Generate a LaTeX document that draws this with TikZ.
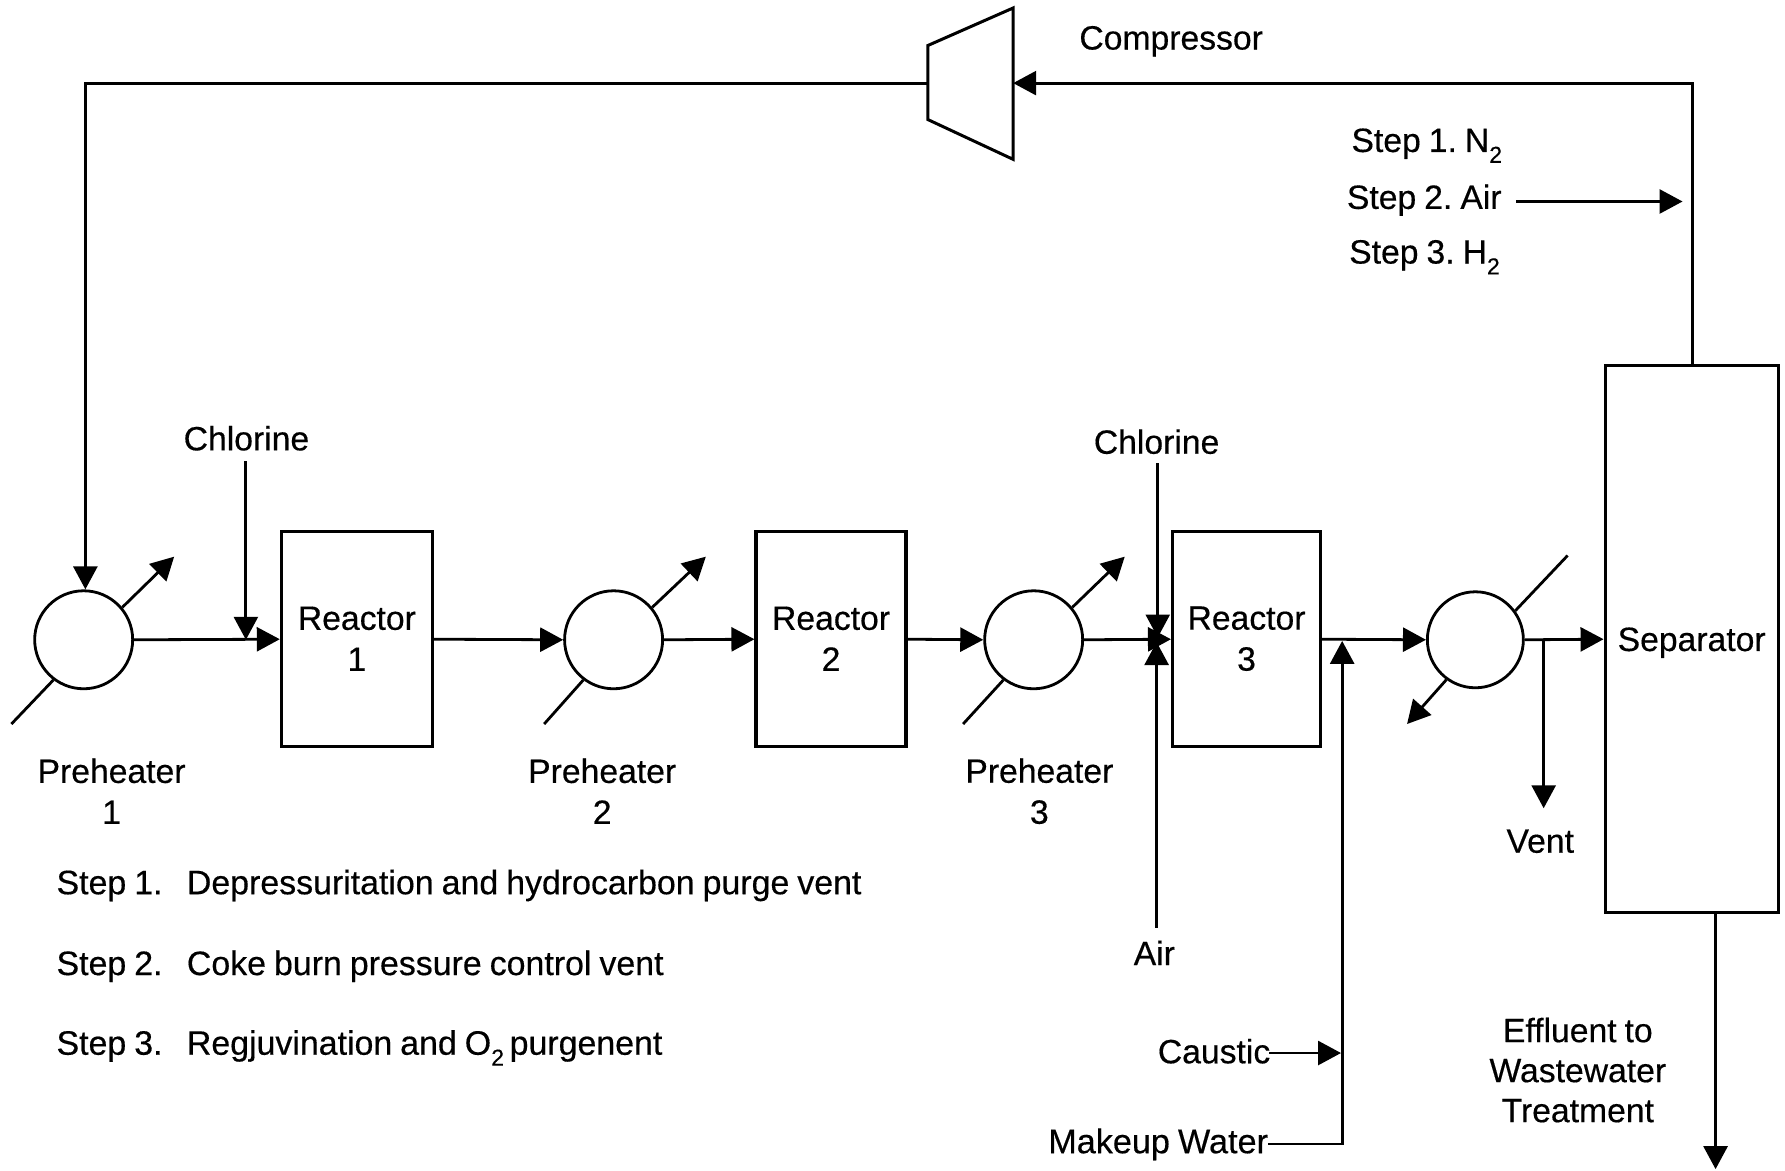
\documentclass[tikz,border=0pt]{standalone}
\usepackage{fontspec}
\setmainfont[WordSpace=0.85,RawFeature={embolden=0.4}]{Liberation Sans}
\usetikzlibrary{arrows.meta}
\newcommand{\subtwo}{\raisebox{-0.32em}{\fontsize{23}{23}\selectfont 2}}
\tikzset{
  lab/.style={font=\fontsize{33.7}{41}\selectfont, inner sep=0pt, align=center, text=black},
  leftlab/.style={lab, anchor=base west, align=left},
  notelab/.style={leftlab, font=\fontsize{33.9}{41}\selectfont},
  box/.style={draw, line width=3.2pt, minimum width=0pt, inner sep=0pt, align=center, font=\fontsize{33.7}{41}\selectfont},
  heater/.style={draw, circle, line width=2.8pt, minimum size=98pt, inner sep=0pt},
  pipe/.style={line width=2.8pt},
  flow/.style={line width=2.8pt, -{Triangle[length=23pt,width=24pt]}},
}
\begin{document}
\begin{tikzpicture}[x=1.1384pt,y=-1.1384pt]
\useasboundingbox (0,0) rectangle (1568,1028);
% equipment
\node[box, minimum width=151pt, minimum height=215pt] (r1) at (313.5,561.5) {\raisebox{1pt}[\height][\depth]{Reactor}\\[-1pt]1};
\node[box, minimum width=150pt, minimum height=215pt] (r2) at (730,561.5) {\raisebox{1pt}[\height][\depth]{Reactor}\\[-1pt]2};
\node[box, minimum width=148pt, minimum height=215pt] (r3) at (1095,561.5) {\raisebox{1pt}[\height][\depth]{Reactor}\\[-1pt]3};
\node[box, minimum width=173pt, minimum height=547pt] (sep) at (1486,561.5) {\raisebox{-3.5pt}[\height][\depth]{Separator}};
\node[heater] (h1) at (73.5,562) {};
\node[heater] (h2) at (539,562) {};
\node[heater] (h3) at (908,562) {};
\node[heater, minimum size=96pt] (h4) at (1296,562) {};
% compressor
\coordinate (ca) at (815,40);
\coordinate (cb) at (890,7);
\coordinate (cc) at (890,140);
\coordinate (cd) at (815,105);
\coordinate (cl) at (815,73);
\coordinate (cr) at (890,73);
\draw[line width=3pt, line join=miter] (ca) -- (cb) -- (cc) -- (cd) -- cycle;
% recycle loop
\coordinate (tr) at (1487,73);
\coordinate (tl) at (75,73);
\draw[flow] (sep.north -| tr) -- (tr) -- (cr);
\draw[flow] (cl) -- (tl) -- (h1.north -| tl);
% heater coils
\coordinate (h1a) at (10,636); \coordinate (h1b) at (153,489);
\coordinate (h2a) at (478,636); \coordinate (h2b) at (620,489);
\coordinate (h3a) at (846,636); \coordinate (h3b) at (988,489);
\coordinate (h4a) at (1377,488); \coordinate (h4b) at (1236,636);
\draw[pipe] (h1a) -- (h1.-127);
\draw[flow] (h1.40) -- (h1b);
\draw[pipe] (h2a) -- (h2.-127);
\draw[flow] (h2.40) -- (h2b);
\draw[pipe] (h3a) -- (h3.-127);
\draw[flow] (h3.40) -- (h3b);
\draw[pipe] (h4a) -- (h4.36);
\draw[flow] (h4.-126) -- (h4b);
% main line
\draw[flow] (h1.east) -- (r1.west);
\draw[flow] (r1.east) -- (h2.west);
\draw[flow] (h2.east) -- (r2.west);
\draw[flow] (r2.east) -- (h3.west);
\draw[flow] (h3.east) -- (r3.west);
\draw[flow] (r3.east) -- (h4.west);
\draw[flow] (h4.east) -- (sep.west);
% feeds
\coordinate (cl1) at (216,405);
\coordinate (cl1e) at (216,562);
\draw[flow] (cl1) -- (cl1e);
\coordinate (cl3) at (1017,407);
\coordinate (cl3e) at (1017,560);
\draw[flow] (cl3) -- (cl3e);
\coordinate (air) at (1016,815);
\coordinate (aire) at (1016,564);
\draw[flow] (air) -- (aire);
\coordinate (mw) at (1114,1005);
\coordinate (mwc) at (1179,1005);
\coordinate (mwe) at (1179,563);
\draw[flow] (mw) -- (mwc) -- (mwe);
\coordinate (ca1) at (1115,925);
\coordinate (ca2) at (1178,925);
\draw[flow] (ca1) -- (ca2);
\coordinate (vt) at (1356,562);
\coordinate (vb) at (1356,710);
\draw[flow] (vt) -- (vb);
\coordinate (eff) at (1507,1027);
\draw[flow] (sep.south -| eff) -- (eff);
\coordinate (st) at (1332,177);
\coordinate (ste) at (1478,177);
\draw[flow] (st) -- (ste);
% labels
\node[leftlab] (tcomp) at (948,43.5) {Compressor};
\node[leftlab] (ts1) at (1187,133.5) {Step 1.\hspace{-3pt} N\subtwo};
\node[leftlab] (ts2) at (1183,183.5) {Step 2.\hspace{-3pt} Air};
\node[leftlab] (ts3) at (1185,231.5) {Step 3.\hspace{-3pt} H\subtwo};
\node[lab] (tcl1) at (216.5,385) {Chlorine};
\node[lab] (tcl3) at (1016,388) {Chlorine};
\node[lab] (tp1) at (98,695) {Preheater\\1};
\node[lab] (tp2) at (529,695) {Preheater\\2};
\node[lab] (tp3) at (913,695) {Preheater\\3};
\node[lab] (tvent) at (1353,739) {Vent};
\node[lab] (tair) at (1014,837) {Air};
\node[lab, font=\fontsize{33.7}{40}\selectfont] (teff) at (1386,940) {Effluent to\\Wastewater\\Treatment};
\node[lab, anchor=base east] (tcau) at (1116,934) {Caustic};
\node[lab, anchor=base east, font=\fontsize{34.2}{41}\selectfont] (tmw) at (1114,1013) {Makeup Water};
\node[notelab] (t1a) at (49.5,785.5) {Step 1.};
\node[notelab] (t1b) at (164,785.5) {Depressuritation and hydrocarbon purge vent};
\node[notelab] (t2a) at (49.5,856.5) {Step 2.};
\node[notelab] (t2b) at (164,856.5) {Coke burn pressure control vent};
\node[notelab] (t3a) at (49.5,926.5) {Step 3.};
\node[notelab] (t3b) at (164,926.5) {Regjuvination and O\subtwo\,purgenent};
\end{tikzpicture}
\end{document}
